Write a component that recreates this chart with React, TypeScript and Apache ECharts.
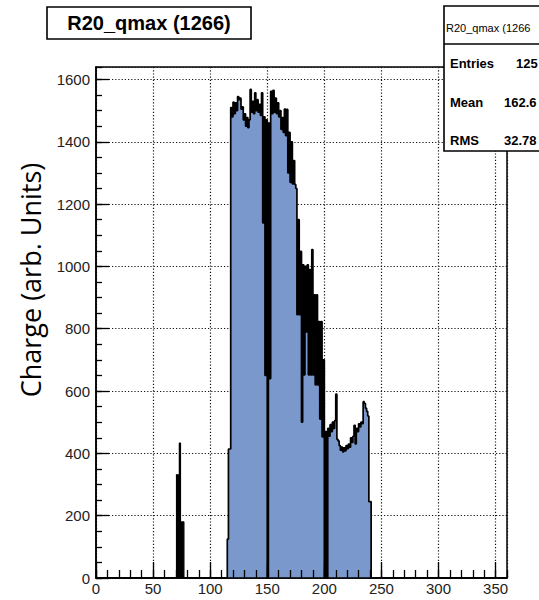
import React, { useEffect, useRef } from "react";
import * as echarts from "echarts";

// ---- data (bin width = 1 unit on the x axis) ----
const xRange = [0, 360];
const yRange = [0, 1640];
const lowGroupStart = 70;
const lowGroup = [331, 331, 331, 433, 180, 180, 180];
const mainStart = 115;
const mainGroup = [
  125, 414, 414, 1510, 1480, 1527, 1490, 1525, 1500, 1545,
  1535, 1540, 1505, 1512, 1470, 1490, 1450, 1478, 1445, 1470,
  1568, 1495, 1530, 1490, 1557, 1500, 1535, 1495, 1520, 1485,
  1557, 1140, 1480, 650, 1470, 0, 1460, 640, 1562, 1490,
  1565, 1495, 1540, 1490, 1525, 1480, 1500, 1440, 1478, 1430,
  1505, 1420, 1504, 1300, 1430, 1270, 1400, 1265, 1340, 1263,
  1250, 845, 1150, 845, 1048, 500, 1005, 652, 1000, 790,
  1005, 652, 990, 652, 1054, 652, 909, 620, 909, 620,
  823, 510, 823, 453, 700, 0, 470, 0, 480, 455,
  492, 470, 500, 480, 505, 590, 445, 440, 425, 410,
  420, 405, 418, 408, 425, 415, 430, 420, 450, 435,
  455, 490, 430, 480, 470, 495, 485, 500, 495, 566,
  560, 545, 535, 520, 245, 245,
];
const titleText = "R20_qmax (1266)";
const statsTitle = "R20_qmax (1266";
const statLabels = ["Entries", "Mean", "RMS"];
const statValues = ["125", "162.6", "32.78"];
const yTitle = "Charge (arb. Units)";

function mainPoints(): number[][] {
  const n = xRange[1] - xRange[0];
  const counts = new Array(n).fill(0);
  mainGroup.forEach((v, i) => (counts[mainStart - xRange[0] + i] = v));
  const pts = counts.map((v, i) => [xRange[0] + i, v]);
  pts.push([xRange[1], 0]);
  return pts;
}

function lowPoints(): number[][] {
  const pts = lowGroup.map((v, i) => [lowGroupStart + i, v]);
  pts.push([lowGroupStart + lowGroup.length, 0]);
  return pts;
}

export default function App() {
  const ref = useRef<HTMLDivElement>(null);
  useEffect(() => {
    if (!ref.current) return;
    const chart = echarts.init(ref.current, null, { renderer: "svg" });
    const font = "Liberation Sans";
    const gridLine = { show: true, lineStyle: { color: "#111", width: 1.2, type: [1.2, 2] } };
    const hidden = { show: false };
    const statValX = [516, 504, 504];
    const statY = [63, 102, 140];
    const graphics: any[] = [
      {
        type: "rect", z: 100,
        shape: { x: 47, y: 7, width: 204, height: 32 },
        style: { fill: "#fff", stroke: "#000", lineWidth: 1.6 },
      },
      {
        type: "text", z: 101, x: 149, y: 23,
        style: { text: titleText, fill: "#000", font: `bold 20px "${font}"`, align: "center", verticalAlign: "middle" },
      },
      {
        type: "rect", z: 100,
        shape: { x: 444, y: 6, width: 130, height: 145 },
        style: { fill: "#fff", stroke: "#000", lineWidth: 1.6 },
      },
      {
        type: "line", z: 101,
        shape: { x1: 444, y1: 44, x2: 560, y2: 44 },
        style: { stroke: "#000", lineWidth: 1.6 },
      },
      {
        type: "text", z: 101, x: 446, y: 28,
        style: { text: statsTitle, fill: "#000", font: `11px "${font}"`, align: "left", verticalAlign: "middle" },
      },
      {
        type: "text", z: 101, x: 30, y: 280, rotation: Math.PI / 2,
        style: { text: yTitle, fill: "#000", font: `27px "Open Sans"`, align: "center", verticalAlign: "middle" },
      },
    ];
    statLabels.forEach((lab, i) => {
      graphics.push({
        type: "text", z: 101, x: 450, y: statY[i],
        style: { text: lab, fill: "#000", font: `bold 13px "${font}"`, align: "left", verticalAlign: "middle" },
      });
      graphics.push({
        type: "text", z: 101, x: statValX[i], y: statY[i],
        style: { text: statValues[i], fill: "#000", font: `bold 13px "${font}"`, align: "left", verticalAlign: "middle" },
      });
    });

    const axisBase = (min: number, max: number, interval: number) => ({
      type: "value" as const, min, max, interval,
    });
    const plain = (v: number) => String(v);

    chart.setOption({
      animation: false,
      backgroundColor: "#fff",
      grid: {
        left: 96, right: 32, top: 67, bottom: 22,
        show: true, borderColor: "#000", borderWidth: 1.5, backgroundColor: "#fff",
        outerBoundsMode: "none",
      },
      xAxis: [
        {
          ...axisBase(xRange[0], xRange[1], 50), position: "bottom",
          axisLine: hidden, axisTick: hidden, axisLabel: hidden, splitLine: gridLine,
        },
        {
          ...axisBase(xRange[0], xRange[1], 50), position: "bottom", z: 10,
          axisLine: { show: true, onZero: false, lineStyle: { color: "#000", width: 1.5 } },
          axisTick: { show: true, inside: true, length: 16, lineStyle: { color: "#000", width: 1.3 } },
          axisLabel: { show: true, color: "#222", fontSize: 15, fontFamily: font, margin: 3, showMaxLabel: false, formatter: plain },
          splitLine: hidden,
        },
        {
          ...axisBase(xRange[0], xRange[1], 10), position: "bottom", z: 10,
          axisLine: hidden,
          axisTick: { show: true, inside: true, length: 8, lineStyle: { color: "#000", width: 1.3 } },
          axisLabel: hidden, splitLine: hidden,
        },
      ],
      yAxis: [
        {
          ...axisBase(yRange[0], yRange[1], 200), position: "left",
          axisLine: hidden, axisTick: hidden, axisLabel: hidden, splitLine: gridLine,
        },
        {
          ...axisBase(yRange[0], yRange[1], 200), position: "left", z: 10,
          axisLine: { show: true, onZero: false, lineStyle: { color: "#000", width: 1.5 } },
          axisTick: { show: true, inside: true, length: 13, lineStyle: { color: "#000", width: 1.3 } },
          axisLabel: { show: true, color: "#222", fontSize: 15, fontFamily: font, margin: 6, showMaxLabel: false, formatter: plain },
          splitLine: hidden,
        },
        {
          ...axisBase(yRange[0], yRange[1], 50), position: "left", z: 10,
          axisLine: hidden,
          axisTick: { show: true, inside: true, length: 6, lineStyle: { color: "#000", width: 1.3 } },
          axisLabel: hidden, splitLine: hidden,
        },
      ],
      series: [
        {
          type: "line", xAxisIndex: 0, yAxisIndex: 0,
          data: mainPoints(), step: "end", symbol: "none", showSymbol: false,
          lineStyle: { color: "#000", width: 1.7 },
          areaStyle: { color: "#7a98cc", opacity: 1 },
          z: 5, silent: true, clip: true,
        },
        {
          type: "line", xAxisIndex: 0, yAxisIndex: 0,
          data: lowPoints(), step: "end", symbol: "none", showSymbol: false,
          lineStyle: { color: "#000", width: 1.2 },
          areaStyle: { color: "#000", opacity: 1 },
          z: 5, silent: true, clip: true,
        },
      ],
      graphic: graphics,
    });
    return () => chart.dispose();
  }, []);
  return (
    <div
      ref={ref}
      style={{ position: "fixed", left: 0, top: 0, width: 539, height: 600, background: "#fff" }}
    />
  );
}
